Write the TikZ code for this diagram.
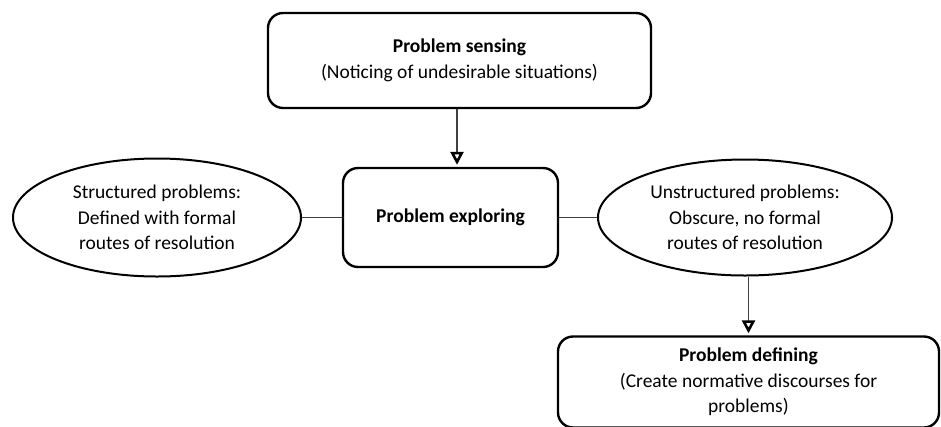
\documentclass[tikz,border=0pt]{standalone}
\usepackage{fontspec}
\setmainfont{Carlito}
\usetikzlibrary{arrows.meta,shapes.geometric,calc}
\begin{document}
\begin{tikzpicture}[x=1pt,y=-1pt,
  font=\fontsize{19.5}{25.5}\selectfont,
  rbox/.style={draw=black,line width=2.4pt,rounded corners=15pt,align=center,inner sep=0pt},
  ell/.style={draw=black,line width=2pt,ellipse,align=center,inner sep=0pt},
  conn/.style={draw=black!75,line width=1.3pt},
  arr/.style={conn,-{Triangle[open,length=13pt,width=13pt,line width=2.6pt,color=black]},shorten >=2pt}]
\useasboundingbox (0,0) rectangle (941,426);
\clip (0,0) rectangle (941,426);
\node[rbox,minimum width=383pt,minimum height=95pt] (top) at (459.5,60.5)
  {\textbf{Problem sensing}\\(Noticing of undesirable situations)};
\node[rbox,minimum width=215pt,minimum height=99pt] (mid) at (450.5,217.5)
  {\textbf{Problem exploring}};
\node[ell,minimum width=288pt,minimum height=118pt] (le) at (157,217.5)
  {Structured problems:\\Defined with formal\\routes of resolution};
\node[ell,minimum width=294pt,minimum height=116pt] (re) at (745,217.5)
  {Unstructured problems:\\Obscure, no formal\\routes of resolution};
\node[rbox,minimum width=381pt,minimum height=91pt] (bot) at (748.5,382)
  {\textbf{Problem defining}\\(Create normative discourses for\\problems)};
\draw[arr] (top.south) ++(-2.5,0) coordinate (a1) -- (a1 |- mid.north);
\draw[conn] (le.east) -- (mid.west);
\draw[conn] (mid.east) -- (re.west);
\draw[arr] (re.south -| bot.north) -- (bot.north);
\end{tikzpicture}
\end{document}
